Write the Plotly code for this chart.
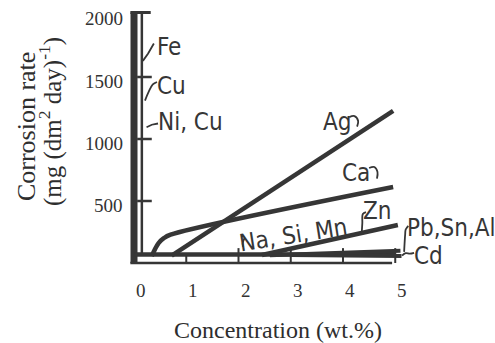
import plotly.graph_objects as go

# ---- data ----
conc_ticks = [0, 1, 2, 3, 4, 5]
rate_ticks = [500, 1000, 1500, 2000]

ag_x = [0.72, 4.96]
ag_y = [60, 1226]
ca_x = [0.34, 0.40, 0.47, 0.57, 0.70, 4.96]
ca_y = [56, 110, 160, 200, 228, 613]
zn_x = [2.45, 5.05]
zn_y = [65, 306]
pbsnal_x = [2.6, 5.1]
pbsnal_y = [62, 98]
nasimn_x = [0.0, 5.0]
nasimn_y = [68, 68]
cd_x = [3.0, 5.12]
cd_y = [64, 56]
fe_x = [0.0, 0.0]
fe_y = [0, 2020]
cu_x = [0.15, 0.15]
cu_y = [68, 2020]

labels = ["Fe", "Cu", "Ni, Cu", "Ag", "Ca", "Zn", "Na, Si, Mn", "Pb,Sn,Al", "Cd"]
label_x = [0.67, 0.71, 1.09, 3.885, 4.25, 4.65, 3.06, 6.07, 5.63]
label_y = [1742, 1427, 1137, 1137, 726, 419, 222, 282, 56]

INK = "#363636"
LFONT = "Liberation Sans Narrow, DejaVu Sans Condensed, Arial Narrow, sans-serif"
SFONT = "Liberation Serif, DejaVu Serif, serif"

fig = go.Figure()


def line(x, y, w, color=INK, shape="linear"):
    fig.add_trace(go.Scatter(x=x, y=y, mode="lines", showlegend=False, hoverinfo="skip",
                             line=dict(color=color, width=w, shape=shape)))


# frame: thick vertical bar and thin companion line, lower axis line
line(fe_x, fe_y, 7)
line(cu_x, cu_y, 2.5)
line([-0.07, 0.32], [2020, 2020], 3)
line([-0.07, 4.94], [0, 0], 2.5)
# y ticks
for v in rate_ticks[:-1]:
    line([0.06, 0.34], [v, v], 2.5)
# x ticks
for c in conc_ticks[1:]:
    line([c, c], [0, 80 if c == 1 else 120], 2)

# data lines
line(nasimn_x, nasimn_y, 4.5)
line(cd_x, cd_y, 4)
line(pbsnal_x, pbsnal_y, 4)
line(zn_x, zn_y, 4.5)
line(ca_x, ca_y, 4.5, shape="spline")
line(ag_x, ag_y, 4.5)

# leaders
line([0.17, 0.27, 0.38], [1630, 1690, 1770], 1.8)                 # Fe
line([0.21, 0.28, 0.36, 0.44], [1310, 1380, 1440, 1460], 1.8, shape="spline")  # Cu
line([0.24, 0.34, 0.46], [1095, 1115, 1125], 1.8)                 # Ni, Cu
line([4.12, 4.22, 4.29, 4.27], [1177, 1185, 1145, 1100], 1.8, shape="spline")  # Ag
line([4.50, 4.60, 4.66, 4.65], [766, 774, 735, 680], 1.8, shape="spline")    # Ca
line([4.44, 4.38, 4.37, 4.36], [410, 395, 320, 250], 1.8, shape="spline")    # Zn
line([5.25, 5.20, 5.19, 5.17], [300, 270, 230, 90], 1.8, shape="spline")     # Pb,Sn,Al
line([5.13, 5.20, 5.28, 5.36], [60, 80, 75, 82], 1.8, shape="spline")        # Cd
line([2.12, 2.08, 2.09], [205, 160, 130], 1.8, shape="spline")               # Na,Si,Mn

# labels
for t, x, y in zip(labels, label_x, label_y):
    fig.add_annotation(x=x, y=y, text=t, showarrow=False, xanchor="center", yanchor="middle",
                       textangle=-9 if t.startswith("Na") else 0,
                       font=dict(family=LFONT, size=24, color=INK))

# tick labels
for c in conc_ticks:
    fig.add_annotation(x=c, y=-0.0214, yref="paper", text=str(c), showarrow=False, xshift=7,
                       xanchor="center", yanchor="middle",
                       font=dict(family=SFONT, size=19, color="#333333"))
for v in rate_ticks:
    fig.add_annotation(x=-0.17, y=v, text=str(v), showarrow=False, xanchor="right",
                       yanchor="middle", yshift=-4,
                       font=dict(family=SFONT, size=19, color="#333333"))

# axis titles
fig.add_annotation(xref="paper", yref="paper", x=0.481, y=-0.161, text="Concentration (wt.%)",
                   xanchor="center", yanchor="middle",
                   showarrow=False, font=dict(family=SFONT, size=24, color="#2e2e2e"))
fig.add_annotation(xref="paper", yref="paper", x=-0.2, y=0.564, text="Corrosion rate",
                   xanchor="center", yanchor="middle",
                   textangle=-90, showarrow=False, font=dict(family=SFONT, size=26, color="#2e2e2e"))
fig.add_annotation(xref="paper", yref="paper", x=-0.135, y=0.582,
                   text="(mg (dm<sup>2</sup> day)<sup>-1</sup>)",
                   xanchor="center", yanchor="middle",
                   textangle=-90, showarrow=False, font=dict(family=SFONT, size=25, color="#2e2e2e"))

fig.update_layout(
    width=495, height=343,
    margin=dict(l=100, r=25, t=5, b=58),
    paper_bgcolor="white", plot_bgcolor="white",
    xaxis=dict(range=[-0.651, 6.431], visible=False, fixedrange=True),
    yaxis=dict(range=[-177.4, 2080.6], visible=False, fixedrange=True),
)

fig.write_html("out.html")
